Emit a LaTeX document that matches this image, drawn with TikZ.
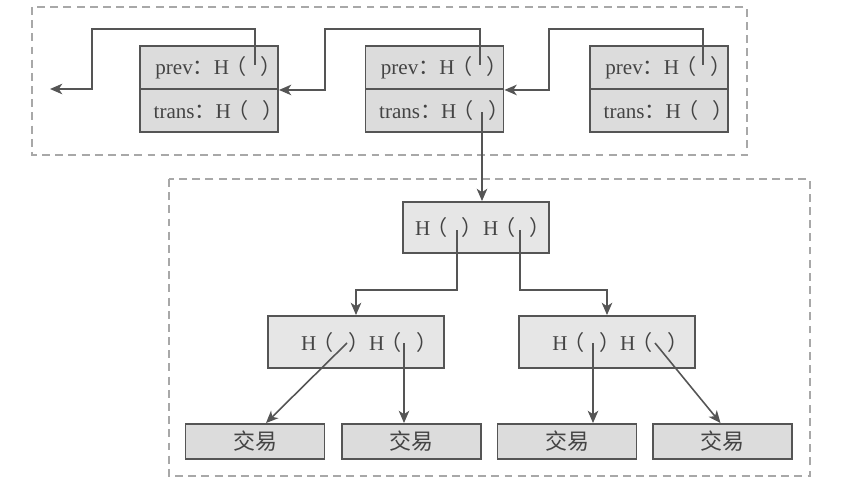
\documentclass[tikz,border=0pt]{standalone}
\usepackage{fontspec}
\setmainfont{Liberation Serif}
\newfontfamily\cjk{Noto Sans CJK SC}
\usetikzlibrary{arrows.meta,calc}
\definecolor{boxfill}{HTML}{DCDCDC}
\definecolor{treefill}{HTML}{E6E6E6}
\definecolor{boxline}{HTML}{555555}
\definecolor{txtgray}{HTML}{444444}
\definecolor{framegray}{HTML}{A8A8A8}
\newcommand{\hpair}{H\kern-2pt{\cjk （\hspace{8pt}）}}
\newcommand{\fcolon}{{\cjk ：}}
\newcommand{\trim}[1]{\kern-#1pt\relax}

\begin{document}
\begin{tikzpicture}[x=0.02cm,y=-0.02cm,
  blk/.style={draw=boxline,line width=1.1pt,fill=boxfill,minimum width=138*0.02cm,
    minimum height=43*0.02cm,inner sep=0pt,text=txtgray,font=\fontsize{12}{14}\selectfont},
  tnode/.style={draw=boxline,line width=1.1pt,fill=treefill,minimum width=176*0.02cm,
    minimum height=52*0.02cm,inner sep=0pt,text=txtgray,font=\fontsize{12}{14}\selectfont},
  leaf/.style={draw=boxline,line width=1.1pt,fill=boxfill,minimum width=139*0.02cm,
    minimum height=35*0.02cm,inner sep=0pt,text=txtgray,font=\cjk\fontsize{12.5}{14}\selectfont},
  link/.style={draw=boxline,line width=0.9pt,-{Stealth[length=7pt,width=6pt,inset=2pt]}},
  frame/.style={draw=framegray,line width=0.9pt,dash pattern=on 4.5pt off 3pt}]
\useasboundingbox (0,0) rectangle (864,483);

% chain of blocks
\draw[frame] (32,7) rectangle (747,155);
\node[blk] (b1p) at (209,67.5) {prev\fcolon\hpair\trim{11}};
\node[blk] (b1t) at (209,110.5) {trans\fcolon\hpair\trim{11}};
\node[blk] (b2p) at (434.5,67.5) {prev\fcolon\hpair\trim{11}};
\node[blk] (b2t) at (434.5,110.5) {trans\fcolon\hpair\trim{11}};
\node[blk] (b3p) at (659,67.5) {prev\fcolon\hpair\trim{11}};
\node[blk] (b3t) at (659,110.5) {trans\fcolon\hpair\trim{11}};

\coordinate (h1) at (255,65);
\coordinate (h2) at (480,65);
\coordinate (h3) at (703,65);
\coordinate (t2) at (482,112);
\coordinate (end0) at (50,89);
\draw[link] (h1) |- (92,29) |- (end0);
\draw[link] (h2) |- (325,29) |- (b1p.south east);
\draw[link] (h3) |- (549,29) |- (b2p.south east);

% merkle tree
\draw[frame] (169,179) rectangle (810,476);
\node[tnode,minimum width=146*0.02cm,minimum height=51*0.02cm] (root) at (476,227.5) {\hpair\hpair\trim{8}};
\node[tnode] (lc) at (356,342) {\hpair\hpair\trim{15}};
\node[tnode] (rc) at (607,342) {\hpair\hpair\trim{15}};
\node[leaf] (l1) at (255,441.5) {交易};
\node[leaf] (l2) at (411.5,441.5) {交易};
\node[leaf] (l3) at (567,441.5) {交易};
\node[leaf] (l4) at (722.5,441.5) {交易};

\draw[link] (t2) -- (t2 |- root.north);

\coordinate (r1) at (457,230);
\coordinate (r2) at (520,230);
\draw[link] (r1) -- ++(0,60) -| (lc.north);
\draw[link] (r2) -- ++(0,60) -| (rc.north);

\coordinate (c1) at (347,343);
\coordinate (c2) at (404,343);
\coordinate (c3) at (593,343);
\coordinate (c4) at (655,343);
\draw[link] (c1) -- ($(l1.north)+(11,0)$);
\draw[link] (c2) -- (c2 |- l2.north);
\draw[link] (c3) -- (c3 |- l3.north);
\draw[link] (c4) -- ($(l4.north)+(-2,0)$);
\end{tikzpicture}
\end{document}
